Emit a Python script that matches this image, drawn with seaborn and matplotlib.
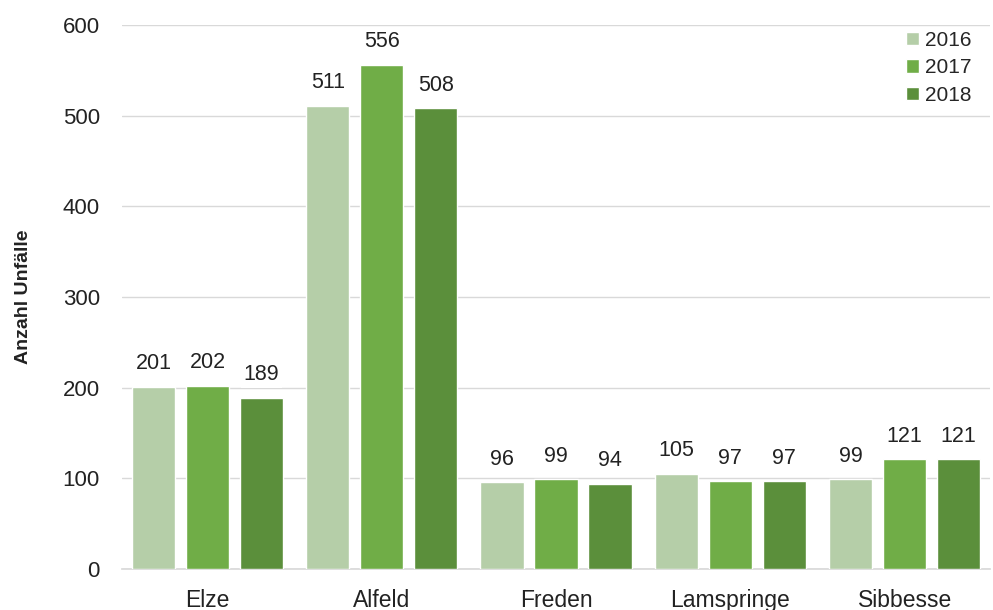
import matplotlib
matplotlib.use("Agg")
import matplotlib.pyplot as plt
import seaborn as sns
import pandas as pd

orte = ["Elze", "Alfeld", "Freden", "Lamspringe", "Sibbesse"]
jahre = ["2016", "2017", "2018"]
werte_2016 = [201, 511, 96, 105, 99]
werte_2017 = [202, 556, 99, 97, 121]
werte_2018 = [189, 508, 94, 97, 121]
farben = ["#b5cea8", "#70ad47", "#5b8f3b"]
y_ticks = [0, 100, 200, 300, 400, 500, 600]

df = pd.DataFrame({
    "Ort": orte * 3,
    "Jahr": [j for j in jahre for _ in orte],
    "Unfälle": werte_2016 + werte_2017 + werte_2018,
})

sns.set_theme(style="white")
plt.rcParams["font.family"] = ["Liberation Sans", "DejaVu Sans"]

fig = plt.figure(figsize=(9.93, 6.10), dpi=100)
ax = fig.add_axes([0.123, 0.067, 0.874, 0.892])

sns.barplot(data=df, x="Ort", y="Unfälle", hue="Jahr", order=orte,
            hue_order=jahre, palette=farben, width=0.93, gap=0.2,
            saturation=1, ax=ax, zorder=3)

ax.set_ylim(0, 600)
ax.set_xlim(-0.49, 4.49)
ax.set_yticks(y_ticks)
ax.yaxis.grid(True, color="#d9d9d9", linewidth=1.0, zorder=0)
ax.set_axisbelow(True)
for s in ["top", "right", "left"]:
    ax.spines[s].set_visible(False)
ax.spines["bottom"].set_color("#d9d9d9")
ax.spines["bottom"].set_zorder(1)

ax.tick_params(axis="y", labelsize=16, length=0, pad=16, labelcolor="#222222")
ax.tick_params(axis="x", labelsize=16.5, length=0, pad=14, labelcolor="#222222")
ax.set_xlabel("")
ax.set_ylabel("Anzahl Unfälle", fontsize=14, fontweight="bold", labelpad=22,
              color="#222222")

for cont in ax.containers:
    labels = ax.bar_label(cont, padding=9, fontsize=15.5, color="#222222")
    for t in labels:
        t.set_bbox(dict(facecolor="white", edgecolor="none", pad=2))
        t.set_zorder(4)

leg = ax.legend(loc="upper right", bbox_to_anchor=(1.0, 1.024), frameon=False,
                fontsize=15, handlelength=0.6, handleheight=0.6,
                handletextpad=0.3, labelspacing=0.42, title=None)

fig.savefig("out.png", dpi=100, facecolor="white")
